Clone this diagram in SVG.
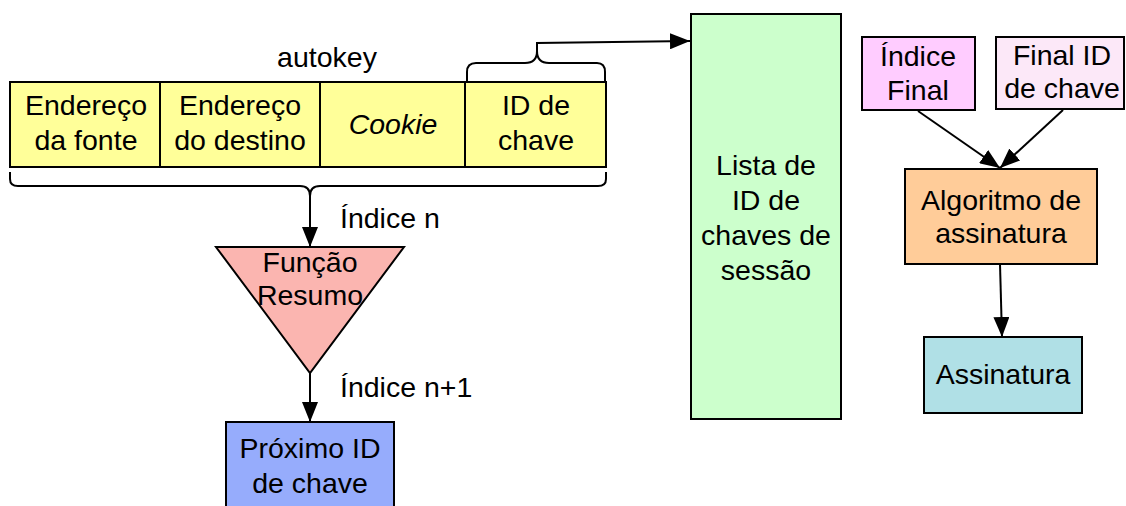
<svg xmlns="http://www.w3.org/2000/svg" width="1126" height="506" viewBox="0 0 1126 506">
<style>
text{font-family:"Liberation Sans",Arial,sans-serif;font-size:28.5px;fill:#000;text-anchor:middle}
.b{stroke:#000;stroke-width:2}
.c{fill:none;stroke:#000;stroke-width:2}
.l{text-anchor:start}
</style>
<defs>
<marker id="ah" viewBox="0 0 20 16" refX="20" refY="8" markerWidth="20" markerHeight="16" markerUnits="userSpaceOnUse" orient="auto">
<path d="M0,0L20,8L0,16z" fill="#000"/>
</marker>
</defs>
<rect width="1126" height="506" fill="#fff"/>
<g id="autokey">
<text x="327" y="67">autokey</text>
</g>
<g id="src">
<rect class="b" x="10" y="82" width="150" height="85" fill="#ffff99"/>
<text x="86" y="115">Endereço</text><text x="86" y="150">da fonte</text>
</g>
<g id="dst">
<rect class="b" x="160" y="82" width="160" height="85" fill="#ffff99"/>
<text x="240" y="115">Endereço</text><text x="240" y="150">do destino</text>
</g>
<g id="cookie">
<rect class="b" x="320" y="82" width="145" height="85" fill="#ffff99"/>
<text x="393" y="134" font-style="italic">Cookie</text>
</g>
<g id="keyid">
<rect class="b" x="465" y="82" width="141" height="85" fill="#ffff99"/>
<text x="536" y="115">ID de</text><text x="536" y="150">chave</text>
</g>
<g id="hash">
<path class="b" d="M216,247H404L310,373z" fill="#fbb5b0"/>
<text x="310" y="272">Função</text><text x="310" y="305">Resumo</text>
</g>
<g id="next">
<rect class="b" x="226" y="422" width="168" height="92" fill="#96acfc"/>
<text x="310" y="458">Próximo ID</text><text x="310" y="493">de chave</text>
</g>
<g id="list">
<rect class="b" x="691" y="14" width="150" height="405" fill="#ccffcc"/>
<text x="766" y="175">Lista de</text><text x="766" y="210">ID de</text><text x="766" y="245">chaves de</text><text x="766" y="280">sessão</text>
</g>
<g id="finalidx">
<rect class="b" x="862" y="37" width="113" height="73" fill="#ffccff"/>
<text x="918" y="66">Índice</text><text x="918" y="100">Final</text>
</g>
<g id="finalkey">
<rect class="b" x="996" y="37" width="128" height="72" fill="#fce8f8"/>
<text x="1062" y="65">Final ID</text><text x="1062" y="98">de chave</text>
</g>
<g id="algo">
<rect class="b" x="905" y="169" width="192" height="95" fill="#ffcc99"/>
<text x="1001" y="210">Algoritmo de</text><text x="1001" y="243">assinatura</text>
</g>
<g id="sig">
<rect class="b" x="924" y="337" width="158" height="76" fill="#b0e0e6"/>
<text x="1003" y="384">Assinatura</text>
</g>
<g id="connectors">
<path class="c" d="M10,172V179Q10,186 18,186H300Q310,186 310,196Q310,186 320,186H598Q606,186 606,179V172"/>
<path class="c" d="M310,196V247" marker-end="url(#ah)"/>
<text class="l" x="340" y="228">Índice n</text>
<path class="c" d="M310,373V422" marker-end="url(#ah)"/>
<text class="l" x="340" y="397">Índice n+1</text>
<path class="c" d="M467,82V72Q467,63 476,63H525Q537,63 537,51Q537,63 549,63H597Q605,63 605,72V82"/>
<path class="c" d="M537,51V43L690,41" marker-end="url(#ah)"/>
<path class="c" d="M918,111L1000,168" marker-end="url(#ah)"/>
<path class="c" d="M1063,110L1000,168" marker-end="url(#ah)"/>
<path class="c" d="M1000,264L1002,337" marker-end="url(#ah)"/>
</g>
</svg>
